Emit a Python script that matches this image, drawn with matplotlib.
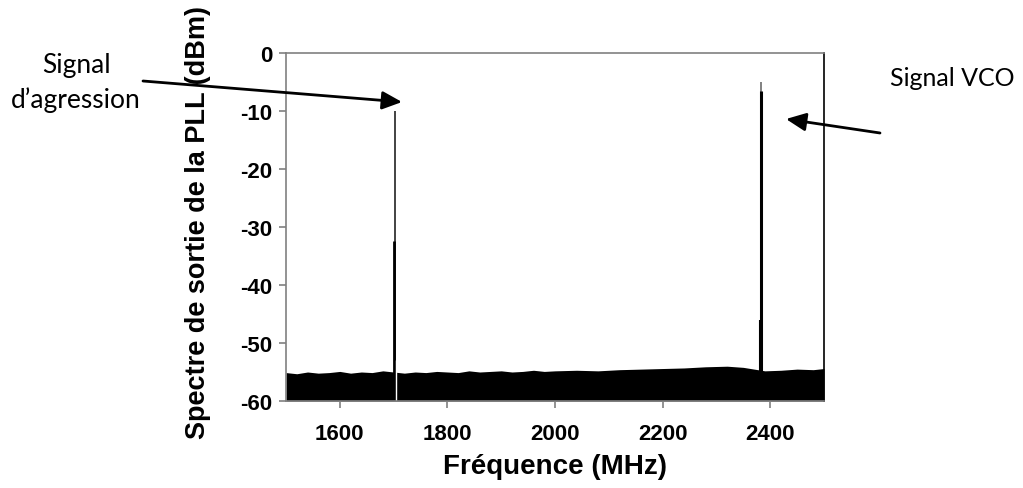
import matplotlib
matplotlib.use("Agg")
import matplotlib.pyplot as plt
from matplotlib.patches import FancyArrowPatch

plt.rcParams["axes.unicode_minus"] = False

# noise floor envelope (upper edge, dBm)
noise_freq = [1500, 1520, 1540, 1560, 1580, 1600, 1620, 1640, 1660, 1680,
              1700, 1720, 1740, 1760, 1780, 1800, 1820, 1840, 1860, 1880,
              1900, 1920, 1940, 1960, 1980, 2000, 2040, 2080, 2120, 2160,
              2200, 2240, 2280, 2320, 2350, 2370, 2390, 2420, 2450, 2480,
              2500]
noise_top = [-55.1, -55.3, -55.0, -55.2, -55.1, -54.9, -55.2, -55.0, -55.1,
             -54.8, -55.0, -55.2, -55.0, -55.1, -54.9, -55.0, -55.1, -54.8,
             -55.0, -54.9, -54.8, -55.0, -54.9, -54.7, -54.9, -54.8, -54.7,
             -54.8, -54.6, -54.5, -54.4, -54.3, -54.1, -54.0, -54.2, -54.5,
             -54.8, -54.7, -54.5, -54.6, -54.4]
floor = -60

# spectral lines: frequency (MHz), peak (dBm), bottom of the thick part
agg_freq, agg_peak, agg_thick = 1702, -10, -32.5
vco_freq, vco_peak, vco_thick = 2383, -5, -6.5
vco_side_freq, vco_side_peak = 2381, -46

x_ticks = [1600, 1800, 2000, 2200, 2400]
y_ticks = [0, -10, -20, -30, -40, -50, -60]

fig = plt.figure(figsize=(10.23, 4.89), dpi=100)
ax = fig.add_axes([0.2796, 0.1779, 0.5259, 0.7117])

ax.fill_between(noise_freq, floor, noise_top, color="black", lw=0)
ax.vlines(agg_freq, floor, agg_peak, color="#222222", lw=1.2)
ax.vlines(agg_freq - 0.5, floor, agg_thick, color="black", lw=2)
ax.vlines(agg_freq + 3, floor, -53, color="white", lw=1)
ax.vlines(vco_freq, floor, vco_peak, color="#777777", lw=1.3)
ax.vlines(vco_freq, floor, vco_thick, color="black", lw=2.2)
ax.vlines(vco_side_freq, floor, vco_side_peak, color="black", lw=1.5)

ax.set_xlim(1500, 2500)
ax.set_ylim(-60, 0)
ax.set_xticks(x_ticks)
ax.set_yticks(y_ticks)
for s in ax.spines.values():
    s.set_color("#808080")
    s.set_linewidth(1.2)
ax.spines["right"].set_color("black")
ax.tick_params(direction="out", length=5, width=1.2, color="#808080",
               labelsize=16)
for lab in ax.get_xticklabels() + ax.get_yticklabels():
    lab.set_fontfamily("Liberation Sans")
    lab.set_fontweight("bold")
ax.tick_params(axis="x", pad=11)
ax.tick_params(axis="y", pad=5)

ax.set_xlabel("Fréquence (MHz)", fontsize=20, fontweight="bold",
              family="Liberation Sans")
ax.xaxis.set_label_coords(0.5, -0.15)
ax.set_ylabel("Spectre de sortie de la PLL (dBm)", fontsize=19.5,
              fontweight="bold", family="Liberation Sans")
ax.yaxis.set_label_coords(-0.14, 0.515)

# annotations
fig.text(76 / 1023, 1 - 83 / 489, "Signal\nd’agression", ha="center",
         va="center", fontsize=19, family="Lato", linespacing=1.4)
fig.text(952 / 1023, 1 - 78 / 489, "Signal VCO", ha="center", va="center",
         fontsize=18, family="Lato")
arrow = dict(arrowstyle="-|>,head_length=1.2,head_width=0.55",
             mutation_scale=10, color="black", lw=2, shrinkA=0, shrinkB=0)
fig.add_artist(FancyArrowPatch(
    (143 / 1023, 1 - 82 / 489), (402 / 1023, 1 - 103 / 489),
    transform=fig.transFigure, **arrow))
fig.add_artist(FancyArrowPatch(
    (880 / 1023, 1 - 134 / 489), (786 / 1023, 1 - 120 / 489),
    transform=fig.transFigure, **arrow))

fig.savefig("out.png", dpi=100)
